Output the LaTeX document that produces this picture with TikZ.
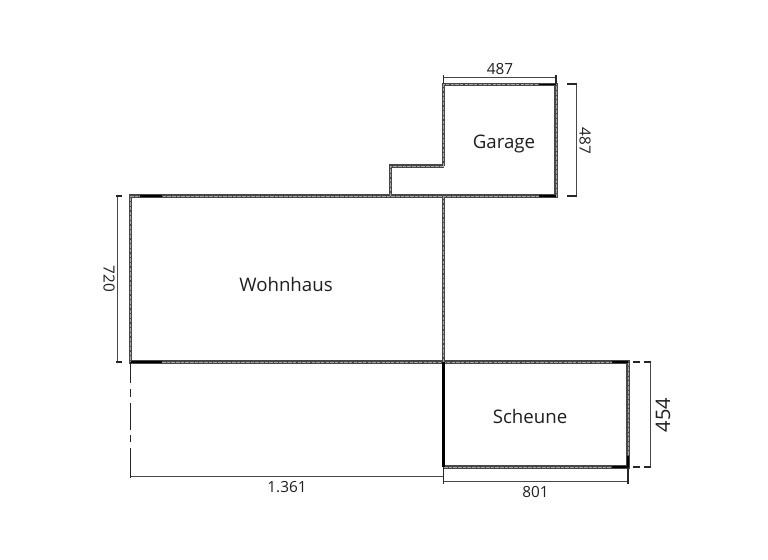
\documentclass[tikz,border=0pt]{standalone}
\usepackage{fontspec}
\setmainfont{Open Sans}
\begin{document}
\begin{tikzpicture}[x=0.75pt,y=-0.75pt,
  wallbase/.style={draw=black!72,line width=2.3pt,line cap=butt,line join=miter},
  wallcore/.style={draw=black!35,line width=0.5pt,dash pattern=on 2.6pt off 0.9pt},
  wallblack/.style={draw=black,line width=1.4pt},
  dimline/.style={draw=black!72,line width=0.75pt},
  tick/.style={draw=black!85,line width=0.8pt},
  room/.style={font=\fontsize{14}{17}\selectfont,text=black!88,inner sep=0pt},
  bigdim/.style={font=\fontsize{15}{18}\selectfont,text=black!88,inner sep=0pt},
  dimtext/.style={font=\fontsize{11.5}{14}\selectfont,text=black!88,inner sep=0pt}]
\useasboundingbox (0,0) rectangle (768,560);
\fill[white] (0,0) rectangle (768,560);
% key corners
\coordinate (ga) at (443.5,84.5);
\coordinate (gb) at (556,84.5);
\coordinate (gc) at (556,196);
\coordinate (gd) at (443.5,166);
\coordinate (ge) at (390.7,166);
\coordinate (gf) at (390.7,196);
\coordinate (wa) at (130.5,196);
\coordinate (wb) at (443.5,196);
\coordinate (wc) at (443.5,362);
\coordinate (wd) at (130.5,362);
\coordinate (sb) at (628,362);
\coordinate (sc) at (628,467);
\coordinate (sd) at (443.5,467);
\coordinate (bl) at (130.5,476.5);
\coordinate (bm) at (443.5,476.5);
% walls
\foreach \st in {wallbase,wallcore}{
  \path[\st] (wc) -- (wb) (gd) -- (ga) -- (gb) -- (gc) -- (wa) -- (wd) -- (sb) -- (sc) -- (sd);
  \path[\st] (gd) -- (ge) -- (gf);
}
% solid black wall pieces
\draw[wallblack] (539,84.5) -- (gb);
\draw[wallblack] (539,196) -- (gc);
\draw[wallblack] (140,196) -- (162,196);
\draw[wallblack] (130.5,362) -- (162,362);
\draw[wallblack,line width=2pt] (wc) -- (sd);
\draw[wallblack] (612,362) -- (sb);
\draw[wallblack] (612,467) -- (sc);
\draw[wallblack] (628,456) -- (sc);
% broken line left of the yard
\draw[draw=black!85,line width=1.1pt,dash pattern=on 15.75pt off 4.5pt on 6pt off 4.2pt on 20.25pt off 4.2pt on 5.25pt off 4.5pt on 20.25pt off 60pt] (wd) -- (bl);
% dimension lines
\draw[dimline] (443.5,77.3) -- (556,77.3);
\draw[tick] (443.5,75) -- (443.5,84);
\draw[tick] (556,75) -- (556,84);
\draw[dimline] (576,84) -- (576,196);
\draw[tick] (567,84) -- (577,84) (567,196) -- (577,196);
\draw[dimline] (117.7,196) -- (117.7,362);
\draw[tick] (116,196) -- (122,196) (116,362) -- (122,362);
\draw[dimline] (bl) -- (bm);
\draw[tick] (130.5,474) -- (130.5,478);
\draw[dimline] (443.5,467) -- (bm);
\draw[dimline] (443.7,481.7) -- (628,481.7);
\draw[tick] (443.7,467) -- (443.7,483.5) (628,467) -- (628,483.5);
\draw[dimline] (650,362) -- (650,467);
\draw[tick] (633,362) -- (640,362) (644,362) -- (651,362);
\draw[tick] (633,467) -- (640,467) (644,467) -- (651,467);
% labels
\node[room] (garage) at (504,144) {Garage};
\node[room] (wohnhaus) at (286,284) {Wohnhaus};
\node[room] (scheune) at (530,416.5) {Scheune};
\node[dimtext] (dgt) at (500,69) {487};
\node[dimtext,rotate=-90] (dgr) at (585,141) {487};
\node[dimtext,rotate=-90] (dw) at (109,279) {720};
\node[dimtext] (db) at (287,487.5) {1.361};
\node[dimtext] (ds) at (535.5,492) {801};
\node[bigdim,rotate=90] (dsr) at (663,415) {454};
\end{tikzpicture}
\end{document}
